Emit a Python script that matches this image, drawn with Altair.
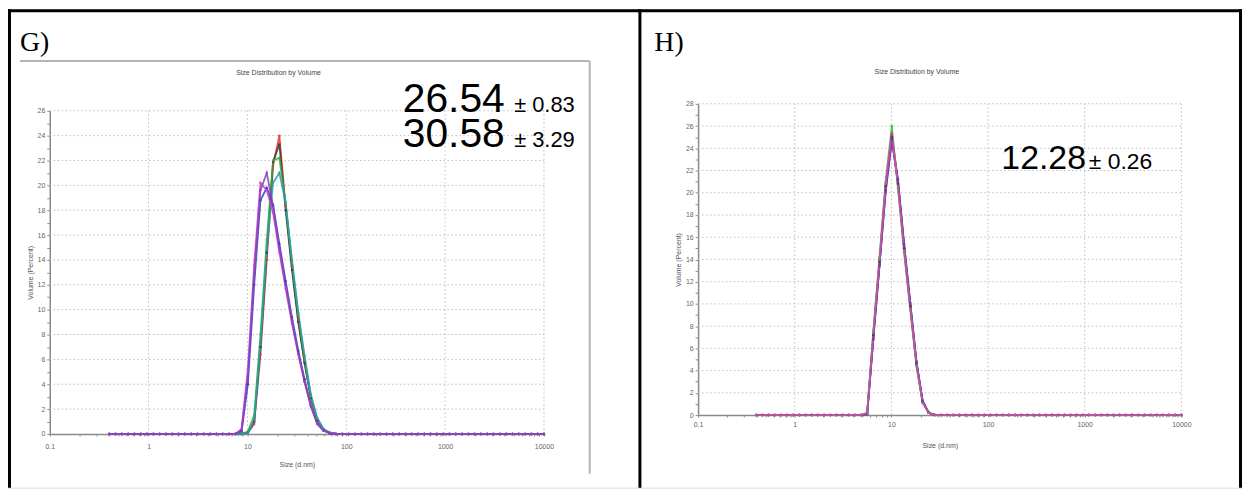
import altair as alt
import pandas as pd

# ---------------- data ----------------
sizes = [0.4, 0.4632, 0.5365, 0.6213, 0.7195, 0.8332, 0.9649, 1.117, 1.294, 1.499,
         1.736, 2.01, 2.328, 2.696, 3.122, 3.615, 4.187, 4.849, 5.615, 6.503,
         7.531, 8.721, 10.1, 11.7, 13.54, 15.69, 18.17, 21.04, 24.36, 28.21,
         32.67, 37.84, 43.82, 50.75, 58.77, 68.06, 78.82, 91.28, 105.7, 122.4,
         141.8, 164.2, 190.1, 220.2, 255.0, 295.3, 342.0, 396.1, 458.7, 531.2,
         615.1, 712.4, 825.0, 955.4, 1106, 1281, 1484, 1718, 1990, 2305,
         2669, 3091, 3580, 4145, 4801, 5560, 6439, 7456, 8635, 10000]

# Panel G: values from bin index 20 (7.531 nm) to 36 (78.82 nm); all other bins 0
g_start = 20
g_red = [0, 0, 0.1, 0.8, 6.4, 14.0, 21.6, 24.0, 18.3, 13.5, 9.2, 5.8, 2.9, 1.1, 0.35, 0.08, 0]
g_black = [0, 0, 0.1, 1.0, 7.0, 14.6, 21.9, 23.3, 18.0, 13.2, 9.0, 5.7, 2.9, 1.1, 0.35, 0.08, 0]
g_green = [0, 0, 0.2, 1.5, 8.0, 15.6, 22.0, 22.2, 18.6, 13.8, 9.6, 6.0, 3.0, 1.2, 0.4, 0.1, 0]
g_teal = [0, 0, 0.1, 1.1, 7.2, 14.8, 20.2, 21.0, 18.6, 14.0, 9.8, 6.3, 3.2, 1.3, 0.4, 0.1, 0]
g_blue = [0, 0.2, 4.0, 12.0, 18.8, 19.8, 18.4, 15.3, 12.3, 9.4, 6.7, 4.4, 2.3, 0.9, 0.3, 0.06, 0]
g_magenta = [0, 0.4, 5.2, 13.6, 20.2, 19.6, 17.8, 14.6, 11.7, 8.9, 6.4, 4.2, 2.3, 0.9, 0.3, 0.08, 0]
g_purple = [0, 0.3, 4.6, 12.8, 19.6, 21.0, 18.3, 15.0, 12.0, 9.1, 6.5, 4.2, 2.2, 0.8, 0.25, 0.05, 0]
g_series = ["red", "black", "green", "teal", "blue", "magenta", "purple"]
g_values = [g_red, g_black, g_green, g_teal, g_blue, g_magenta, g_purple]
g_colors = ["#e8332e", "#3a3a3a", "#2fae3a", "#2a9fb0", "#2b3fbf", "#d03cc8", "#8a3fc0"]

# Panel H: values from bin index 17 (4.849 nm) to 29 (28.21 nm)
h_start = 17
h_red = [0, 0.1, 7.0, 13.6, 20.4, 25.2, 21.0, 15.2, 9.9, 4.7, 1.2, 0.2, 0]
h_blue = [0, 0.1, 6.8, 13.4, 20.2, 24.8, 21.2, 15.4, 10.1, 4.8, 1.3, 0.2, 0]
h_black = [0, 0.1, 7.2, 13.8, 20.6, 25.0, 20.8, 15.0, 9.8, 4.6, 1.2, 0.2, 0]
h_purple = [0, 0.1, 6.9, 13.5, 20.0, 24.6, 21.0, 15.3, 10.0, 4.8, 1.3, 0.2, 0]
h_green = [0, 0.2, 7.6, 14.2, 21.0, 26.0, 20.4, 14.6, 9.4, 4.4, 1.1, 0.2, 0]
h_magenta = [0, 0.2, 7.4, 14.0, 20.8, 25.4, 20.6, 14.8, 9.6, 4.5, 1.1, 0.2, 0]
h_series = ["red", "blue", "black", "purple", "green", "magenta"]
h_values = [h_red, h_blue, h_black, h_purple, h_green, h_magenta]
h_colors = ["#e8332e", "#2b3fbf", "#3a3a3a", "#7a3fc0", "#33c040", "#e040b0"]

x_tick_values = [m * 10 ** e for e in range(-1, 4) for m in range(1, 10)] + [10000]
x_grid_values = [1, 10, 100, 1000, 10000]
g_y_ticks = list(range(0, 27))
h_y_ticks = list(range(0, 29))
g_y_grid = list(range(2, 27, 2))
h_y_grid = list(range(2, 29, 2))

g_title = "Size Distribution by Volume"
h_title = "Size Distribution by Volume"
y_title = "Volume (Percent)"
x_title = "Size (d.nm)"
g_label = "G)"
h_label = "H)"
g_main = "26.54\n30.58"
g_err = "± 0.83\n± 3.29"
h_main = "12.28"
h_err = "± 0.26"


def long_frame(names, values, start):
    rows = []
    for k, (name, vals) in enumerate(zip(names, values)):
        full = [0.0] * len(sizes)
        full[start:start + len(vals)] = vals
        for i, (s, v) in enumerate(zip(sizes, full)):
            rows.append({"size": s, "value": v, "series": name, "k": k, "i": i})
    return pd.DataFrame(rows)


g_df = long_frame(g_series, g_values, g_start)
h_df = long_frame(h_series, h_values, h_start)

W, H = 1241, 481
FONT = "Liberation Sans"

x_label_expr = "indexof([0.1,1,10,100,1000,10000], datum.value) >= 0 ? toString(datum.value) : ''"
y_label_expr = "datum.value % 2 == 0 ? toString(datum.value) : ''"


def panel(df, names, colors, xrange, yrange, ymax, yticks, ygrid, lpad, tpad):
    xs = alt.Scale(type="log", domain=[0.1, 10000], range=xrange, nice=False)
    ys = alt.Scale(domain=[0, ymax], range=yrange, nice=False, zero=False)
    xa = alt.Axis(orient="bottom", offset=-(H - yrange[0]), values=x_tick_values, labelExpr=x_label_expr,
                  grid=False, title=x_title, titlePadding=tpad, labelPadding=lpad, tickSize=2,
                  labelFlush=False, labelOverlap=False, labelFontSize=7, titleFontSize=7,
                  labelColor="#666", titleColor="#555", domainColor="#8a8a8a", domainWidth=1.5,
                  tickColor="#8a8a8a", labelFont=FONT, titleFont=FONT, titleFontWeight="normal")
    ya = alt.Axis(orient="left", offset=-xrange[0], values=yticks, labelExpr=y_label_expr,
                  grid=False, title=y_title, titlePadding=4, labelPadding=2, tickSize=3,
                  labelOverlap=False, labelFontSize=7, titleFontSize=7, labelFlush=False,
                  labelColor="#666", titleColor="#555", domainColor="#8a8a8a", domainWidth=1.5,
                  tickColor="#8a8a8a", labelFont=FONT, titleFont=FONT, titleFontWeight="normal")

    hgrid = alt.Chart(pd.DataFrame({"v": ygrid, "a": 0.1, "b": 10000})).mark_rule(
        color="#bdbdbd", strokeWidth=1, strokeDash=[1.5, 2.5]
    ).encode(x=alt.X("a:Q", scale=xs, axis=xa), x2="b:Q", y=alt.Y("v:Q", scale=ys, axis=ya))
    vgrid = alt.Chart(pd.DataFrame({"u": x_grid_values, "a": 0, "b": ymax})).mark_rule(
        color="#bdbdbd", strokeWidth=1, strokeDash=[1.5, 2.5]
    ).encode(x=alt.X("u:Q", scale=xs, axis=xa), y=alt.Y("a:Q", scale=ys, axis=ya), y2="b:Q")
    lines = alt.Chart(df).mark_line(
        strokeWidth=1.8, opacity=0.85,
        point=alt.OverlayMarkDef(size=6, filled=True, opacity=0.85)
    ).encode(
        x=alt.X("size:Q", scale=xs, axis=xa),
        y=alt.Y("value:Q", scale=ys, axis=ya),
        color=alt.Color("series:N", scale=alt.Scale(domain=names, range=colors), legend=None),
        order="i:Q",
    )
    return alt.layer(hgrid, vgrid, lines)


g_panel = panel(g_df, g_series, g_colors, [42, 539], [427, 102], 26, g_y_ticks, g_y_grid, 7, 11)
h_panel = panel(h_df, h_series, h_colors, [694, 1180], [408, 95], 28, h_y_ticks, h_y_grid, 4, 14)


def text(t, x, y, size, font=FONT, color="#000", align="left", line_height=None):
    kw = dict(fontSize=size, font=font, color=color, align=align, baseline="alphabetic", lineBreak="\n")
    if line_height is not None:
        kw["lineHeight"] = line_height
    return alt.Chart(pd.DataFrame({"t": [t]})).mark_text(**kw).encode(
        text="t:N", x=alt.value(x), y=alt.value(y))


def rule(x1, y1, x2, y2, color, width):
    return alt.Chart(pd.DataFrame({"r": [0]})).mark_rule(color=color, strokeWidth=width).encode(
        x=alt.value(x1), y=alt.value(y1), x2=alt.value(x2), y2=alt.value(y2))


deco = [
    rule(1.5, 0, 1.5, H, "#000", 3),
    rule(0, 1.5, W, 1.5, "#000", 3),
    rule(635.5, 0, 635.5, H, "#000", 3),
    rule(W - 1.5, 0, W - 1.5, H, "#000", 3),
    rule(12, 52, 585, 52, "#b5b5b5", 2),
    rule(585, 52, 585, 467, "#b5b5b5", 2),
    text(g_label, 12, 42, 28, font="Liberation Serif"),
    text(h_label, 650, 42, 28, font="Liberation Serif"),
    text(g_title, 272, 66, 7, color="#444", align="center"),
    text(h_title, 914, 65, 7, color="#444", align="center"),
    text(g_main, 397, 103, 41, line_height=35),
    text(g_err, 509, 103, 22, line_height=35),
    text(h_main, 999, 161, 34),
    text(h_err, 1087, 161, 23),
]

chart = alt.layer(g_panel, h_panel, *deco).resolve_scale(
    x="independent", y="independent", color="independent"
).resolve_axis(x="independent", y="independent").properties(
    width=W, height=H, autosize=alt.AutoSizeParams(type="none"), padding=0
).configure_view(stroke=None).configure(background="white")

chart.save("out.html", embed_options={"renderer": "svg", "actions": False})
